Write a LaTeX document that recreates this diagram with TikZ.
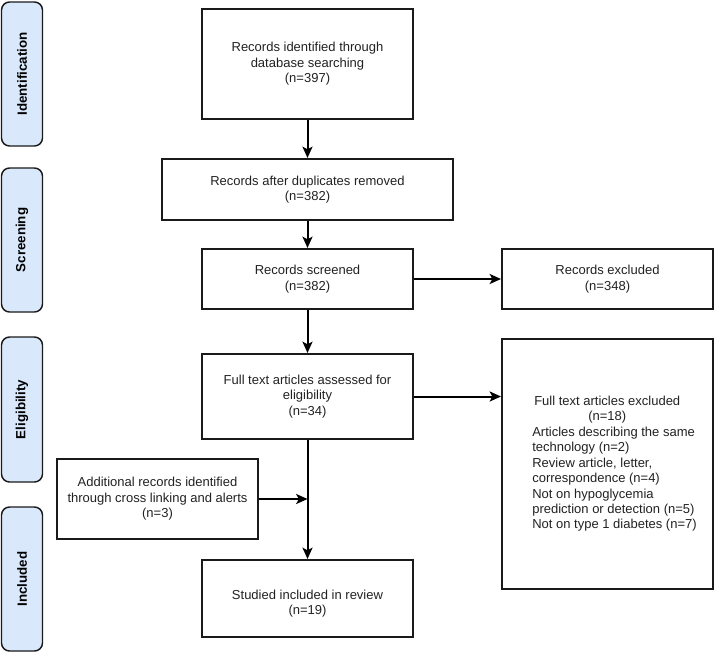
\documentclass[tikz,border=0pt]{standalone}
\usepackage{fontspec}
\setmainfont{Liberation Sans}
\usetikzlibrary{arrows.meta}
\definecolor{lblfill}{HTML}{DAE8FC}
\definecolor{txt}{HTML}{222222}
\definecolor{edge}{HTML}{1A1A1A}
\tikzset{
  box/.style={draw=edge, line width=1.5pt, fill=white, inner sep=2pt, align=center,
    text=txt, font=\fontsize{9.75}{11.6}\selectfont},
  phase/.style={draw=edge, line width=1.1pt, fill=lblfill, rounded corners=6pt,
    minimum width=30.75pt, inner sep=0pt, text=black,
    font=\fontsize{10}{12}\selectfont\bfseries},
  arr/.style={draw=black, line width=1.5pt, -{Stealth[length=8.5pt,width=7.5pt,inset=2pt]}}
}
\begin{document}
\begin{tikzpicture}[x=0.75pt,y=-0.75pt]
\useasboundingbox (0,0) rectangle (714,653);
% phase labels
\node[phase, minimum height=108pt] (pid) at (22,74) {\rotatebox{90}{Identification}};
\node[phase, minimum height=108pt] (psc) at (22,240) {\rotatebox{90}{Screening}};
\node[phase, minimum height=108.75pt] (pel) at (22,409.5) {\rotatebox{90}{Eligibility}};
\node[phase, minimum height=108pt] (pin) at (22,579) {\rotatebox{90}{Included}};
% main boxes
\node[box, minimum width=158.25pt, minimum height=82.5pt] (b1) at (307.5,64)
  {Records identified through\\database searching\\(n=397)};
\node[box, minimum width=218.25pt, minimum height=45.75pt] (b2) at (307.5,189.5)
  {Records after duplicates removed\\(n=382)};
\node[box, minimum width=158.25pt, minimum height=45pt] (b3) at (307.5,279)
  {Records screened\\(n=382)};
\node[box, minimum width=158.25pt, minimum height=45pt] (e1) at (607.5,279)
  {Records excluded\\(n=348)};
\node[box, minimum width=158.25pt, minimum height=63.75pt] (b4) at (307.5,396.5)
  {Full text articles assessed for\\eligibility\\(n=34)};
\node[box, minimum width=158.25pt, minimum height=187.5pt] (e2) at (607.5,464)
  {\begin{tabular}{@{\hspace{10.5pt}}l@{}}
   \hspace*{1.5pt}Full text articles excluded\\
   \hspace*{42pt}(n=18)\\
   Articles describing the same\\
   technology (n=2)\\
   Review article, letter,\\
   correspondence (n=4)\\
   Not on hypoglycemia\\
   prediction or detection (n=5)\\
   Not on type 1 diabetes (n=7)
   \end{tabular}};
\node[box, minimum width=150.75pt, minimum height=60pt] (add) at (157.5,499)
  {Additional records identified\\through cross linking and alerts\\(n=3)};
\node[box, minimum width=158.25pt, minimum height=57.75pt] (b5) at (307.5,598.5)
  {\raisebox{-4pt}[\height][\depth]{\begin{tabular}{@{}c@{}}Studied included in review\\(n=19)\end{tabular}}};
\coordinate (j) at (307.5,499);
% connectors
\draw[arr] (b1) -- (b2);
\draw[arr] (b2) -- (b3);
\draw[arr] (b3) -- (e1);
\draw[arr] (b3) -- (b4);
\draw[arr] (b4) -- (e2.west |- b4.east);
\draw[arr] (b4) -- (b5);
\draw[arr] (add) -- (j);
\end{tikzpicture}
\end{document}
